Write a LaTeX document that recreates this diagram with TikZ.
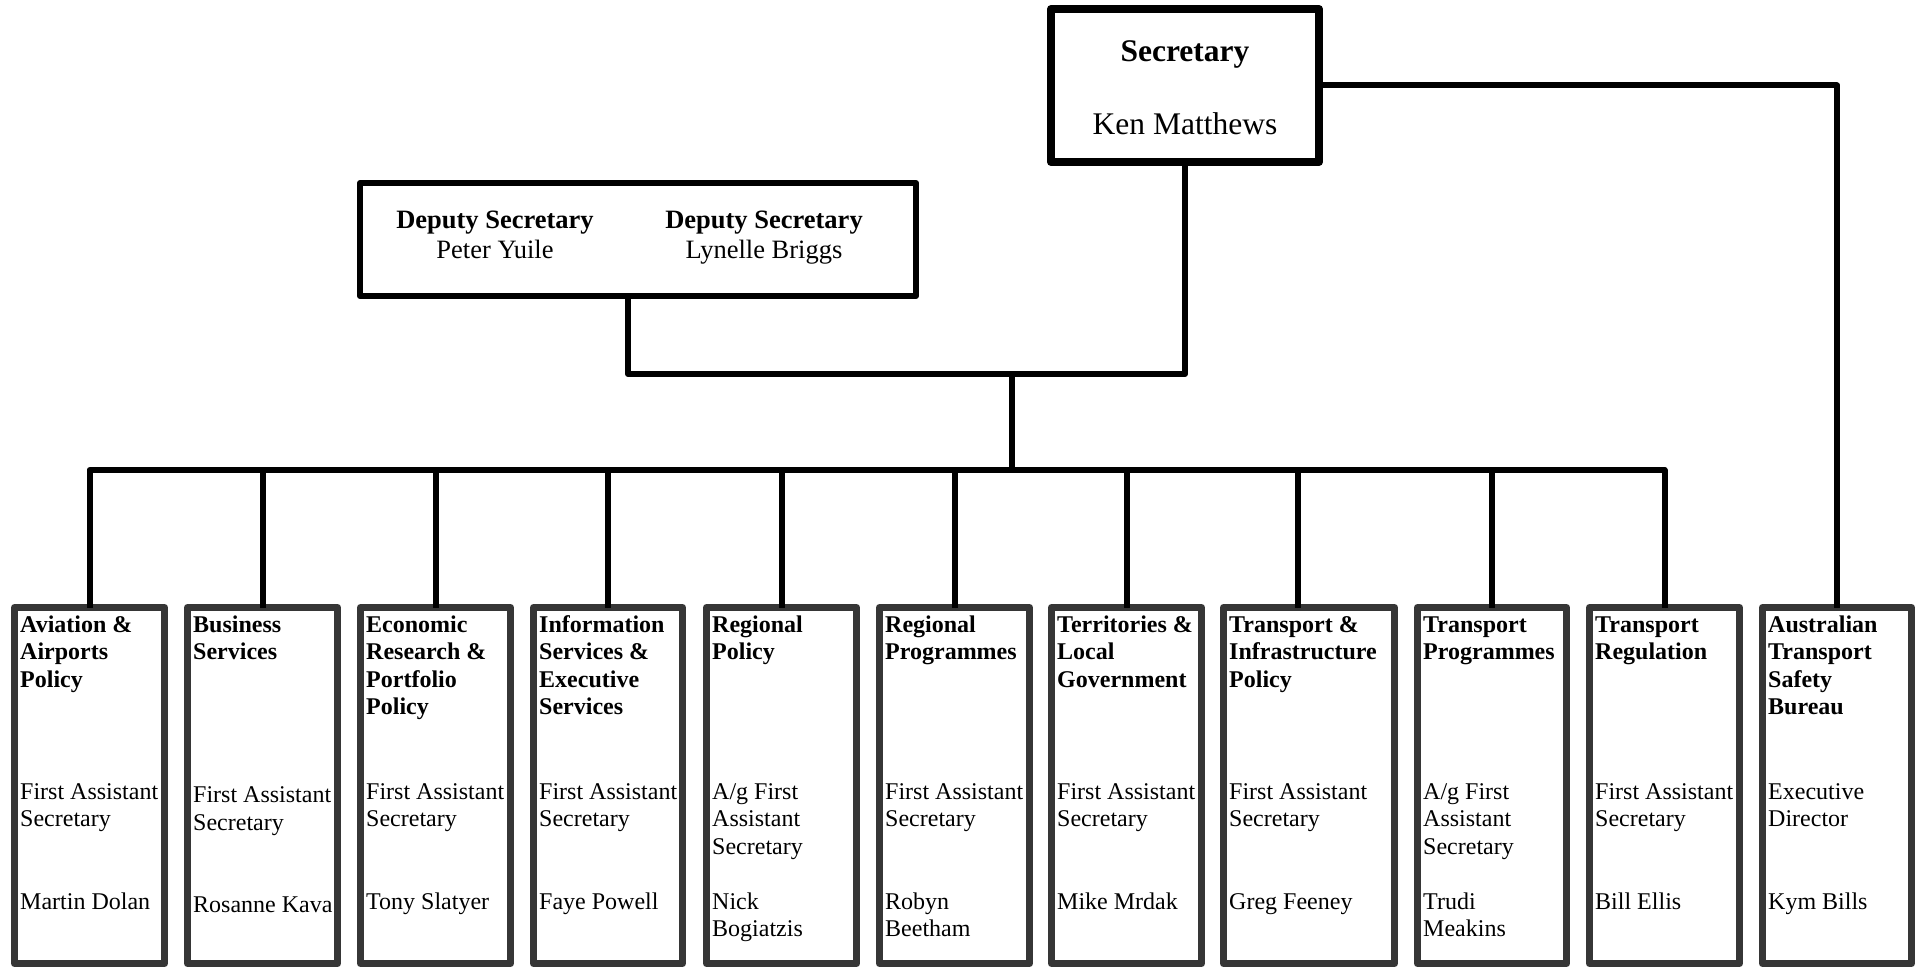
\documentclass[tikz,border=0pt]{standalone}
\usepackage{fontspec}
\setmainfont{Liberation Serif}
\definecolor{boxgray}{RGB}{54,54,54}
\newcommand{\tstack}[1]{\begin{tabular}[t]{@{}l@{}}#1\end{tabular}}
\newcommand{\cstack}[1]{\begin{tabular}[t]{@{}c@{}}#1\end{tabular}}
\tikzset{
  divbox/.style={draw=boxgray, line width=7pt, line join=round, rectangle, inner sep=0pt, outer sep=0pt, anchor=north west, minimum height=356pt},
  topbox/.style={draw=black, rectangle, inner sep=0pt, outer sep=0pt, anchor=north west, line join=round},
  conn/.style={draw=black, line width=6pt, line join=round},
  divtitle/.style={anchor=base west, inner sep=0pt, font=\fontsize{24}{27.5}\selectfont\bfseries},
  divtext/.style={anchor=base west, inner sep=0pt, font=\fontsize{24}{27.5}\selectfont},
  sectext/.style={anchor=base, inner sep=0pt, font=\fontsize{31.5}{36}\selectfont},
  deptext/.style={anchor=base, inner sep=0pt, font=\fontsize{26.5}{30}\selectfont},
}
% name, left outer edge, path width, title, role, person, vertical shift
\newcommand{\orgdiv}[7]{%
  \node[divbox, minimum width=#3] (#1) at (#2+3.5,607.5) {};
  \node[divtitle] (#1t) at (#2+9,632) {\tstack{#4}};
  \node[divtext] (#1r) at (#2+9,799+#7) {\tstack{#5}};
  \node[divtext] (#1p) at (#2+9,909+#7) {\tstack{#6}};
}
\begin{document}
\begin{tikzpicture}[x=1pt,y=-1pt]
\useasboundingbox (0,0) rectangle (1916,968);
\fill[white] (0,0) rectangle (1916,968);

% Secretary
\node[topbox, line width=8pt, minimum width=268, minimum height=153] (sec) at (1051,9) {};
\node[sectext, font=\fontsize{31.5}{36}\selectfont\bfseries] (sect) at (1185,62) {Secretary};
\node[sectext] (secn) at (1185,135) {Ken Matthews};

% Deputy Secretaries
\node[topbox, line width=6pt, minimum width=556, minimum height=113] (dep) at (360,183) {};
\node[deptext] (dep1) at (495,229) {\cstack{\textbf{Deputy Secretary}\\Peter Yuile}};
\node[deptext] (dep2) at (764,229) {\cstack{\textbf{Deputy Secretary}\\Lynelle Briggs}};

% Divisions
\orgdiv{d1}{11}{150}{Aviation \&\\Airports\\Policy}{First Assistant\\Secretary}{Martin Dolan}{0}
\orgdiv{d2}{184}{150}{Business\\Services}{First Assistant\\Secretary}{Rosanne Kava}{3.5}
\orgdiv{d3}{357}{150}{Economic\\Research \&\\Portfolio\\Policy}{First Assistant\\Secretary}{Tony Slatyer}{0}
\orgdiv{d4}{530}{149}{Information\\Services \&\\Executive\\Services}{First Assistant\\Secretary}{Faye Powell}{0}
\orgdiv{d5}{703}{150}{Regional\\Policy}{A/g First\\Assistant\\Secretary}{Nick\\Bogiatzis}{0}
\orgdiv{d6}{876}{150}{Regional\\Programmes}{First Assistant\\Secretary}{Robyn\\Beetham}{0}
\orgdiv{d7}{1048}{150}{Territories \&\\Local\\Government}{First Assistant\\Secretary}{Mike Mrdak}{0}
\orgdiv{d8}{1220}{171}{Transport \&\\Infrastructure\\Policy}{First Assistant\\Secretary}{Greg Feeney}{0}
\orgdiv{d9}{1414}{149}{Transport\\Programmes}{A/g First\\Assistant\\Secretary}{Trudi\\Meakins}{0}
\orgdiv{d10}{1586}{150}{Transport\\Regulation}{First Assistant\\Secretary}{Bill Ellis}{0}
\orgdiv{d11}{1759}{149}{Australian\\Transport\\Safety\\Bureau}{Executive\\Director}{Kym Bills}{0}

% Connectors
\coordinate (j1) at (628,374);
\coordinate (mid) at (1012,374);
\coordinate (bus) at (0,470);
\coordinate (drop8) at (1298,470);
\draw[conn] (dep.south -| j1) -- (j1) -- (sec.south |- j1) -- (sec.south);
\draw[conn] (mid) -- (mid |- bus);
\draw[conn] (d1.north) -- (d1.north |- bus) -- (d10.north |- bus) -- (d10.north);
\foreach \n in {d2,d3,d4,d5,d6,d7,d9} {
  \draw[conn] (\n.north |- bus) -- (\n.north);
}
\draw[conn] (drop8) -- (drop8 |- d8.north);
\draw[conn] (sec.east) -- (sec.east -| d11.north) -- (d11.north);
\end{tikzpicture}
\end{document}
